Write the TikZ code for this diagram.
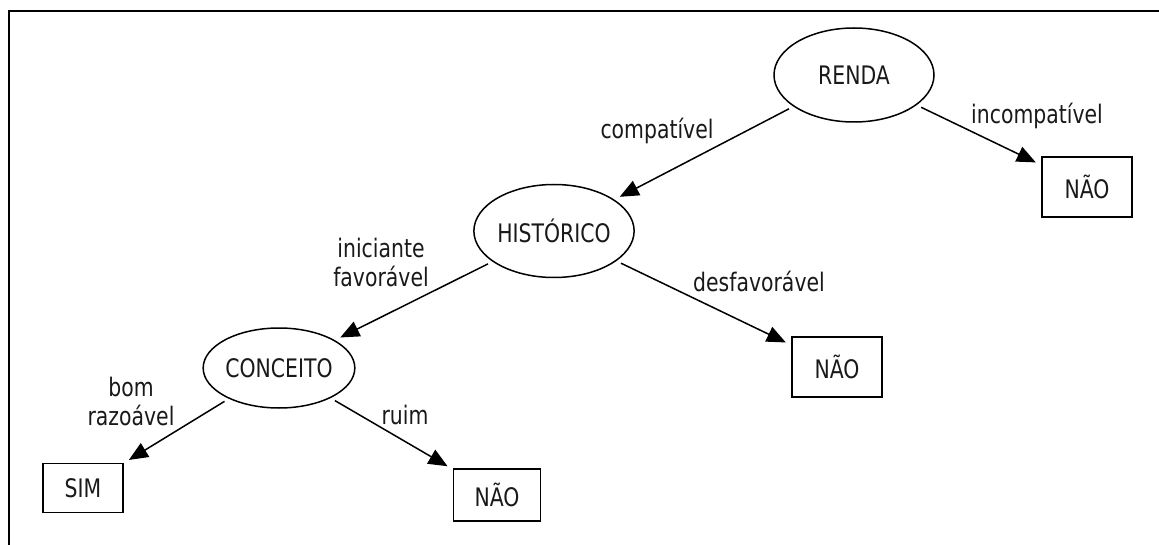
\documentclass[tikz,border=0pt]{standalone}
\usepackage{fontspec}
\setmainfont{DejaVu Sans}[FakeStretch=0.8]
\usetikzlibrary{shapes.geometric,arrows.meta}
\begin{document}
\begin{tikzpicture}[x=1pt,y=-1pt,
  every node/.style={font=\fontsize{25.5}{29}\selectfont, text=black!90},
  dnode/.style={ellipse, draw, line width=1.5pt, inner sep=0pt},
  leaf/.style={rectangle, draw, line width=1.5pt, inner sep=0pt},
  edge/.style={line width=1.5pt, -{Triangle[length=19pt,width=16pt]}, shorten <=5pt, shorten >=6pt},
  lbl/.style={align=center, inner sep=0pt}
]
\useasboundingbox (0,0) rectangle (1159,545);
\draw[line width=2.8pt] (9,545) -- (9,11) -- (1159,11);

\node[dnode, minimum width=160pt, minimum height=94pt] (renda) at (854,75) {RENDA};
\node[dnode, minimum width=157pt, minimum height=93pt] (hist) at (554,231) {HISTÓRICO};
\node[dnode, minimum width=144pt, minimum height=80pt] (conc) at (279,368) {CONCEITO};

\node[leaf, minimum width=90pt, minimum height=60pt] (nao1) at (1087,187) {NÃO};
\node[leaf, minimum width=90pt, minimum height=60pt] (nao2) at (837,367) {NÃO};
\node[leaf, minimum width=80pt, minimum height=49pt] (sim) at (83,488) {SIM};
\node[leaf, minimum width=87pt, minimum height=52pt] (nao3) at (497,495) {NÃO};

\draw[edge] (renda) -- (hist);
\draw[edge] (renda) -- (nao1);
\draw[edge] (hist) -- (conc);
\draw[edge] (hist) -- (nao2);
\draw[edge] (conc) -- (sim);
\draw[edge] (conc) -- (nao3);

\node[lbl] (lcomp) at (657,131) {compatível};
\node[lbl] (linc) at (1037,116) {incompatível};
\node[lbl] (lini) at (381,262) {iniciante\\favorável};
\node[lbl] (ldes) at (759,281) {desfavorável};
\node[lbl] (lbom) at (131,401) {bom\\razoável};
\node[lbl] (lruim) at (405,415) {ruim};
\end{tikzpicture}
\end{document}
